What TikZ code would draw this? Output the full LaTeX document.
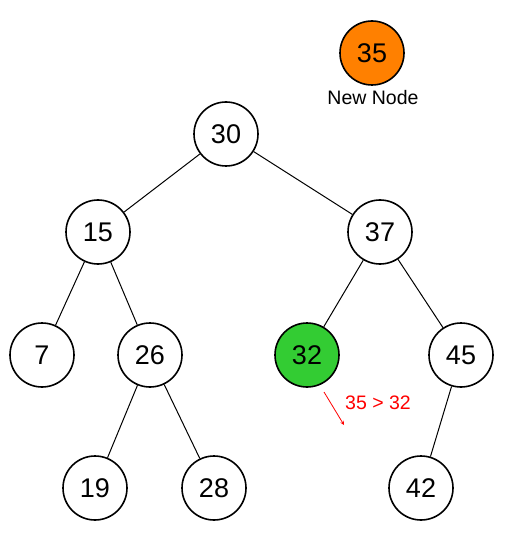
\documentclass[tikz,border=0pt]{standalone}
\usepackage{fontspec}
\setmainfont{Liberation Sans}
\definecolor{neworange}{RGB}{255,128,0}
\definecolor{curgreen}{RGB}{51,204,51}
\begin{document}
\begin{tikzpicture}[x=1pt,y=-1pt,
  tnode/.style={circle,draw=black,line width=1.6pt,minimum size=64pt,inner sep=0pt,fill=white,font=\fontsize{27}{27}\selectfont},
  edge/.style={line width=1pt,draw=black},
  lbl/.style={font=\fontsize{19.5}{19.5}\selectfont}]
\useasboundingbox (0,0) rectangle (507,534);
\node[tnode,fill=neworange] (n35) at (372,53) {35};
\node[lbl] (newlbl) at (373,98) {New Node};
\node[tnode] (n30) at (226,134) {30};
\node[tnode] (n15) at (98,232) {15};
\node[tnode] (n37) at (380,232) {37};
\node[tnode] (n7) at (42,355) {7};
\node[tnode] (n26) at (150,355) {26};
\node[tnode,fill=curgreen] (n32) at (307,355) {32};
\node[tnode] (n45) at (461,355) {45};
\node[tnode] (n19) at (95,488) {19};
\node[tnode] (n28) at (214,488) {28};
\node[tnode] (n42) at (421,488) {42};
\draw[edge] (n30) -- (n15);
\draw[edge] (n30) -- (n37);
\draw[edge] (n15) -- (n7);
\draw[edge] (n15) -- (n26);
\draw[edge] (n26) -- (n19);
\draw[edge] (n26) -- (n28);
\draw[edge] (n37) -- (n32);
\draw[edge] (n37) -- (n45);
\draw[edge] (n45) -- (n42);
\coordinate (as) at (324,392);
\coordinate (ae) at (344,425);
\draw[red,line width=0.8pt,-stealth] (as) -- (ae);
\node[lbl,text=red] (cmp) at (378,403) {35 > 32};
\end{tikzpicture}
\end{document}
